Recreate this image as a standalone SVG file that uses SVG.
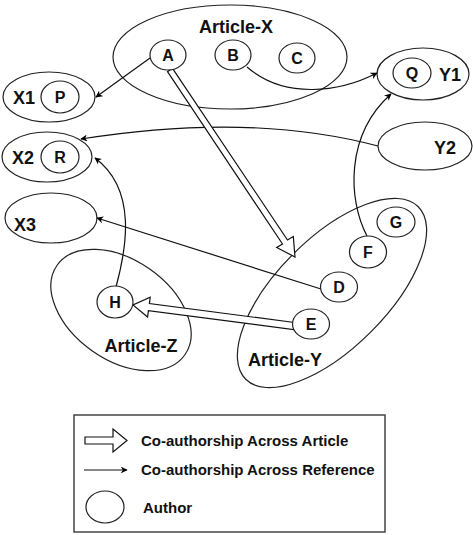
<svg xmlns="http://www.w3.org/2000/svg" width="473" height="535" viewBox="0 0 473 535">
<defs>
<marker id="ah" viewBox="0 0 10 10" refX="9" refY="5" markerWidth="7" markerHeight="7" markerUnits="userSpaceOnUse" orient="auto">
<path d="M0,0 L10,5 L0,10 L3,5 z" fill="#000"/>
</marker>
<style>
.grp{fill:none;stroke:#222;stroke-width:1.2}
.au{fill:#fff;stroke:#222;stroke-width:1.2}
.ln{fill:none;stroke:#111;stroke-width:1.2;marker-end:url(#ah)}
.ha{fill:#fff;stroke:#111;stroke-width:1.2;stroke-linejoin:miter}
.big{font-family:"Liberation Sans",Arial,sans-serif;font-weight:bold;font-size:18px;fill:#111}
.lbl{font-family:"Liberation Sans",Arial,sans-serif;font-weight:bold;font-size:16px;fill:#111;text-anchor:middle}
.leg{font-family:"Liberation Sans",Arial,sans-serif;font-weight:bold;font-size:15px;fill:#111}
</style>
</defs>
<rect width="473" height="535" fill="#fff"/>

<g id="article-x"><ellipse class="grp" cx="230" cy="57" rx="117" ry="52"/><text class="big" x="236" y="33" text-anchor="middle">Article-X</text></g>
<g id="article-y"><ellipse class="grp" cx="332" cy="293" rx="122" ry="55" transform="rotate(-45 332 293)"/><text class="big" x="285" y="366" text-anchor="middle">Article-Y</text></g>
<g id="article-z"><ellipse class="grp" cx="121" cy="310" rx="78" ry="50" transform="rotate(35 121 310)"/><text class="big" x="141" y="352" text-anchor="middle">Article-Z</text></g>
<g id="x1"><ellipse class="grp" cx="49" cy="97" rx="46" ry="25"/><text class="big" x="13" y="104">X1</text></g>
<g id="x2"><ellipse class="grp" cx="47" cy="157" rx="45" ry="25"/><text class="big" x="12" y="164">X2</text></g>
<g id="x3"><ellipse class="grp" cx="51" cy="218" rx="46" ry="25"/><text class="big" x="14" y="231">X3</text></g>
<g id="y1"><ellipse class="grp" cx="423" cy="74" rx="46" ry="26"/><text class="big" x="439" y="81">Y1</text></g>
<g id="y2"><ellipse class="grp" cx="425" cy="146" rx="47" ry="24"/><text class="big" x="434" y="154">Y2</text></g>

<g id="connectors">
<path class="ln" d="M150,58 L96,97"/>
<path class="ln" d="M247,67 C285,100 340,92 377,73"/>
<path class="ln" d="M367,236 C348,200 345,135 391,94"/>
<path class="ln" d="M378,146 Q250,112 81,139"/>
<path class="ln" d="M321,289 L97,218"/>
<path class="ln" d="M116,287 C126,250 138,190 95,158"/>
<polygon class="ha" points="167.5,71.7 282.5,244 276.7,247.5 295,257 293.3,236.5 287.5,240 172.5,68.3"/>
<polygon class="ha" points="294.5,322.5 149.4,303.6 150.2,297.2 133,305 147.6,317 148.4,310.6 293.5,329.5"/>
</g>

<g id="a"><ellipse class="au" cx="168" cy="55" rx="18" ry="15"/><text class="lbl" x="168" y="61">A</text></g>
<g id="b"><ellipse class="au" cx="233" cy="55" rx="18" ry="15"/><text class="lbl" x="233" y="61">B</text></g>
<g id="c"><ellipse class="au" cx="297" cy="58" rx="18" ry="15"/><text class="lbl" x="297" y="64">C</text></g>
<g id="p"><ellipse class="au" cx="60" cy="97" rx="19" ry="16"/><text class="lbl" x="60" y="103">P</text></g>
<g id="r"><ellipse class="au" cx="60" cy="157" rx="19" ry="16"/><text class="lbl" x="60" y="163">R</text></g>
<g id="q"><ellipse class="au" cx="412" cy="73" rx="19" ry="15"/><text class="lbl" x="412" y="79">Q</text></g>
<g id="d"><ellipse class="au" cx="339" cy="287" rx="18.5" ry="15"/><text class="lbl" x="339" y="293">D</text></g>
<g id="e"><ellipse class="au" cx="311" cy="324" rx="18.5" ry="15"/><text class="lbl" x="311" y="330">E</text></g>
<g id="f"><ellipse class="au" cx="368" cy="252" rx="18.5" ry="16"/><text class="lbl" x="368" y="258">F</text></g>
<g id="g"><ellipse class="au" cx="396" cy="222" rx="19" ry="15"/><text class="lbl" x="396" y="228">G</text></g>
<g id="h"><ellipse class="au" cx="115" cy="302" rx="18" ry="16"/><text class="lbl" x="115" y="308">H</text></g>

<g id="legend">
<rect x="74" y="415" width="311" height="117" fill="none" stroke="#444" stroke-width="1.5"/>
<polygon class="ha" points="85,437 113,437 113,429 127,440.5 113,452 113,444 85,444"/>
<text class="leg" x="141" y="446">Co-authorship Across Article</text>
<path class="ln" d="M84,470 L127,470"/>
<text class="leg" x="141" y="475">Co-authorship Across Reference</text>
<ellipse class="au" cx="105" cy="507" rx="19" ry="16"/>
<text class="leg" x="143" y="513">Author</text>
</g>
</svg>
